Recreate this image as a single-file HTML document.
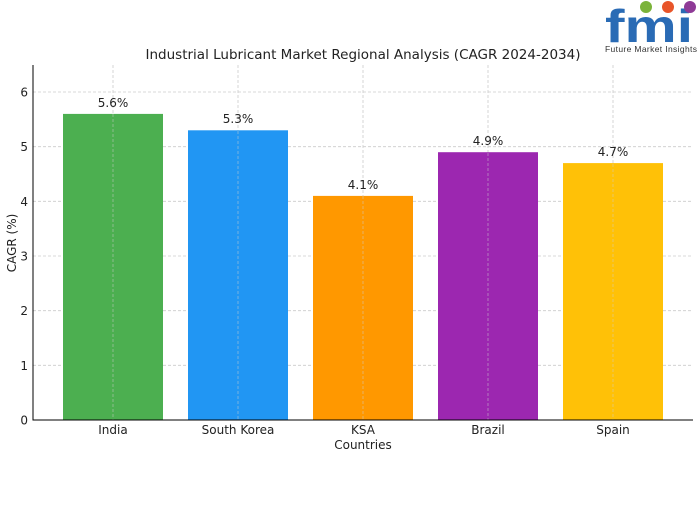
<!DOCTYPE html>
<html><head><style>body{margin:0;background:#fff}</style></head><body>
<svg width="700" height="500" xmlns="http://www.w3.org/2000/svg" font-family="DejaVu Sans, Liberation Sans, sans-serif">
<rect width="700" height="500" fill="#fff"/>
<g stroke="#ccc" stroke-width="0.8" stroke-dasharray="3,2">
<line x1="33" x2="693" y1="365.3" y2="365.3"/><line x1="33" x2="693" y1="310.7" y2="310.7"/><line x1="33" x2="693" y1="256" y2="256"/><line x1="33" x2="693" y1="201.3" y2="201.3"/><line x1="33" x2="693" y1="146.7" y2="146.7"/><line x1="33" x2="693" y1="92" y2="92"/>
<line x1="113" x2="113" y1="65" y2="420"/><line x1="238" x2="238" y1="65" y2="420"/><line x1="363" x2="363" y1="65" y2="420"/><line x1="488" x2="488" y1="65" y2="420"/><line x1="613" x2="613" y1="65" y2="420"/>
</g>
<rect x="63" y="113.9" width="100" height="306.1" fill="#4CAF50"/>
<rect x="188" y="130.3" width="100" height="289.7" fill="#2196F3"/>
<rect x="313" y="195.9" width="100" height="224.1" fill="#FF9800"/>
<rect x="438" y="152.2" width="100" height="267.8" fill="#9C27B0"/>
<rect x="563" y="163.1" width="100" height="256.9" fill="#FFC107"/>
<g stroke="#cfcfcf" stroke-width="0.8" stroke-dasharray="3,2" opacity="0.6">
<line x1="113" x2="113" y1="114" y2="420"/><line x1="238" x2="238" y1="131" y2="420"/><line x1="363" x2="363" y1="196" y2="420"/><line x1="488" x2="488" y1="153" y2="420"/><line x1="613" x2="613" y1="164" y2="420"/>
</g>
<line x1="33" x2="33" y1="65" y2="420.5" stroke="#000" stroke-width="1"/>
<line x1="33" x2="693" y1="420" y2="420" stroke="#000" stroke-width="1"/>
<g font-size="12" fill="#222" text-anchor="end">
<text x="28" y="424.5">0</text><text x="28" y="369.8">1</text><text x="28" y="315.2">2</text><text x="28" y="260.5">3</text><text x="28" y="205.8">4</text><text x="28" y="151.2">5</text><text x="28" y="96.5">6</text>
</g>
<g font-size="12" fill="#222" text-anchor="middle">
<text x="113" y="434">India</text><text x="238" y="434">South Korea</text><text x="363" y="434">KSA</text><text x="488" y="434">Brazil</text><text x="613" y="434">Spain</text>
<text x="363" y="449">Countries</text>
<text x="113" y="107">5.6%</text><text x="238" y="123">5.3%</text><text x="363" y="189">4.1%</text><text x="488" y="145">4.9%</text><text x="613" y="156">4.7%</text>
<text x="363" y="59" font-size="13.5">Industrial Lubricant Market Regional Analysis (CAGR 2024-2034)</text>
<text transform="translate(16,243) rotate(-90)">CAGR (%)</text>
</g>
<g>
<text x="605" y="42" font-size="46" font-weight="bold" fill="#2a6bb5" font-family="Liberation Sans, sans-serif" textLength="88" lengthAdjust="spacingAndGlyphs">fmi</text>
<circle cx="646" cy="7" r="6" fill="#7bb33a"/><circle cx="668" cy="7" r="6" fill="#e8552a"/><circle cx="690" cy="7" r="6" fill="#8e3a96"/>
<text x="605" y="52" font-size="8.5" fill="#333" font-family="Liberation Sans, sans-serif" textLength="92">Future Market Insights</text>
</g>
</svg>
</body></html>
